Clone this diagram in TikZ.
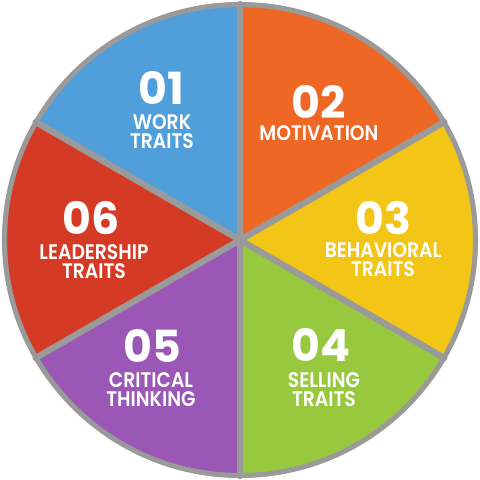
\documentclass[tikz,border=0pt]{standalone}
\usepackage{fontspec}
\setmainfont{Poppins}[BoldFont={Poppins Bold}]
\newfontfamily\labelfont{Poppins SemiBold}[FakeStretch=0.89]
\definecolor{workblue}{HTML}{509FDA}
\definecolor{motivorange}{HTML}{EE6725}
\definecolor{behavyellow}{HTML}{F2C517}
\definecolor{sellgreen}{HTML}{97C83E}
\definecolor{critpurple}{HTML}{9B57B5}
\definecolor{leadred}{HTML}{D53A24}
\definecolor{rimgray}{HTML}{9A9A9A}
\begin{document}
\begin{tikzpicture}[x=0.025cm, y=0.025cm,
    number/.style={text=white, inner sep=0pt, font=\fontsize{31.5}{31.5}\selectfont\bfseries},
    traitlabel/.style={text=white, inner sep=0pt, align=center, font=\fontsize{15}{13.5}\selectfont\labelfont},
    divider/.style={rimgray, line width=4.5pt, line cap=round}]
	\useasboundingbox (-240,-240) rectangle (240,240);
	\coordinate (center) at (0,0);

	% Draw slices
	\foreach \start/\col in {90/workblue, 30/motivorange, -30/behavyellow, -90/sellgreen, -150/critpurple, 150/leadred}
		\fill[\col] (center) -- (\start:236) arc[start angle=\start, delta angle=60, radius=236] -- cycle;

	% Draw dividers and rim
	\foreach \a in {30,90,...,330} {
		\coordinate (rim\a) at (\a:236);
		\draw[divider] (center) -- (rim\a);
	}
	\draw[rimgray, line width=3.6pt] (center) circle (235.5);

	% Draw numbers and labels
	\node[number] (n01) at (-79,152) {01};
	\node[traitlabel] (t01) at (-78,108) {WORK\\TRAITS};
	\node[number] (n02) at (79,138) {02};
	\node[traitlabel] (t02) at (79,107) {MOTIVATION};
	\node[number] (n03) at (143,22) {03};
	\node[traitlabel] (t03) at (143,-20) {BEHAVIORAL\\TRAITS};
	\node[number] (n04) at (81,-105) {04};
	\node[traitlabel] (t04) at (84,-150) {SELLING\\TRAITS};
	\node[number] (n05) at (-88,-106) {05};
	\node[traitlabel] (t05) at (-89,-150) {CRITICAL\\THINKING};
	\node[number] (n06) at (-149,22) {06};
	\node[traitlabel] (t06) at (-146,-21.5) {LEADERSHIP\\TRAITS};
\end{tikzpicture}
\end{document}
